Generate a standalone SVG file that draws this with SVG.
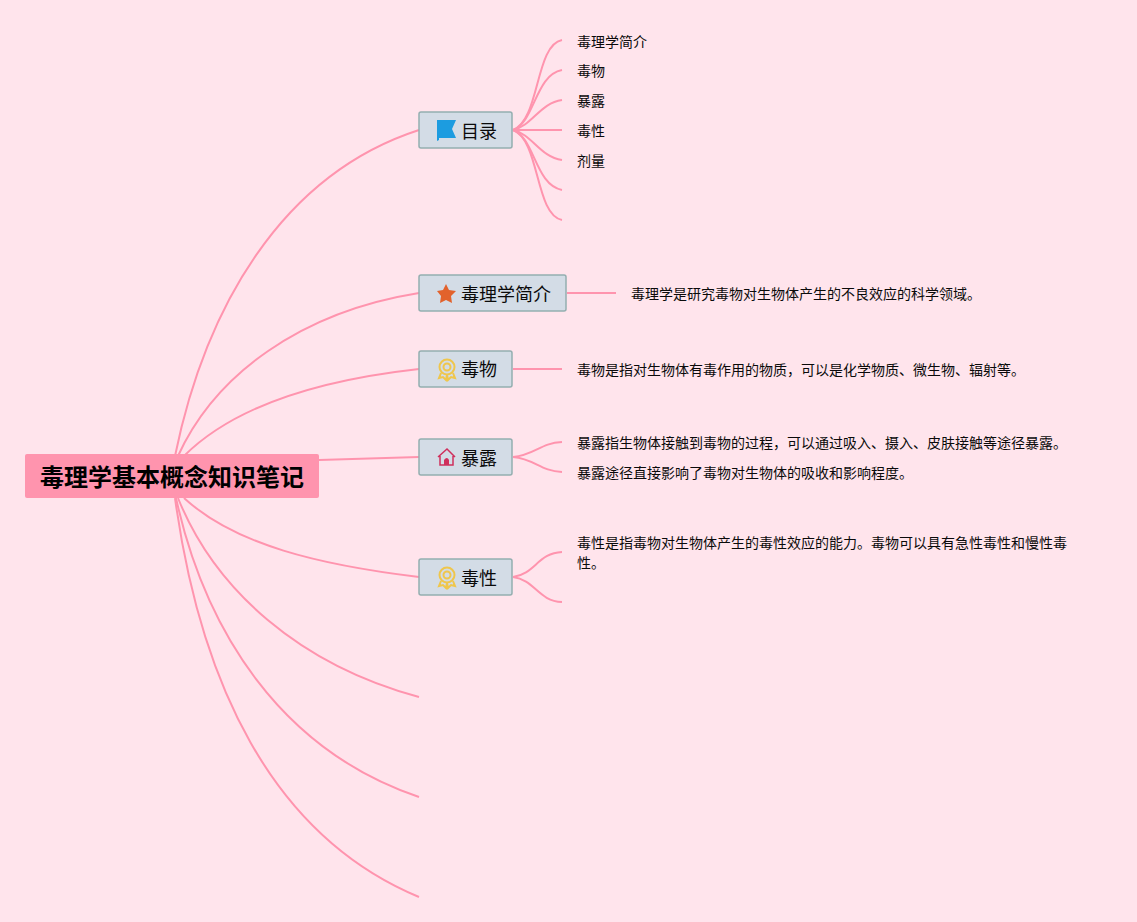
<svg xmlns="http://www.w3.org/2000/svg" width="1137" height="922" viewBox="0 0 1137 922">
<style>
text{font-family:"Liberation Sans","Noto Sans CJK SC",sans-serif;fill:#0a0a0a}
.c{fill:none;stroke:#ff94ae;stroke-width:2}
.b{fill:#d3dce6;stroke:#94aeb0;stroke-width:1.5}
.t{font-size:18px}
.l{font-size:14px}
</style>
<rect width="1137" height="922" fill="#ffe4ec"/>
<g id="connectors">
<path class="c" d="M175 456C205 310 280 175 419 130"/>
<path class="c" d="M178 456C215 375 300 312 419 293"/>
<path class="c" d="M184 456C235 405 320 380 419 369"/>
<path class="c" d="M319 460L419 457"/>
<path class="c" d="M184 498C235 545 320 565 419 577"/>
<path class="c" d="M178 498C215 590 300 665 419 697"/>
<path class="c" d="M176 498C205 630 280 750 419 797"/>
<path class="c" d="M175 498C200 680 270 835 419 897"/>
<path class="c" d="M513 130C540 120 535 45 562 40"/>
<path class="c" d="M513 130C535 122 535 75 562 70"/>
<path class="c" d="M513 130C532 126 540 103 562 100"/>
<path class="c" d="M513 130L562 130"/>
<path class="c" d="M513 130C532 134 540 157 562 160"/>
<path class="c" d="M513 130C535 138 535 185 562 190"/>
<path class="c" d="M513 130C540 140 535 215 562 220"/>
<path class="c" d="M567 293L616 293"/>
<path class="c" d="M513 369L562 369"/>
<path class="c" d="M513 457C535 455 540 443 562 442"/>
<path class="c" d="M513 457C535 459 540 471 562 472"/>
<path class="c" d="M513 577C535 574 538 553 562 552"/>
<path class="c" d="M513 577C535 580 538 601 562 602"/>
</g>
<g id="root"><rect x="25" y="454" width="294" height="44" rx="2" fill="#ff94ae"/><text x="172" y="486" text-anchor="middle" font-size="24" font-weight="700" style="fill:#000">毒理学基本概念知识笔记</text></g>
<g id="n-mulu"><rect class="b" x="419" y="112" width="93" height="36" rx="2"/><path d="M437 120H456L452 129L456 138H439V140L437 141Z" fill="#1c9ce0"/><text class="t" x="461" y="138">目录</text></g>
<g id="n-jianjie"><rect class="b" x="419" y="275" width="147" height="36" rx="2"/><path d="M446 284L449 290L456 291L451 296L452 303L446 300L440 303L441 296L437 291L443 290Z" fill="#e2622c"/><text class="t" x="461" y="301">毒理学简介</text></g>
<g id="n-duwu"><rect class="b" x="419" y="351" width="93" height="36" rx="2"/><g fill="none" stroke="#efc64c" stroke-width="2"><circle cx="447" cy="367" r="7.5"/><circle cx="447" cy="367" r="3.5"/><path d="M441 373L439 378L443 377L446 380L447 375L448 380L451 377L455 378L453 373"/></g><text class="t" x="461" y="376">毒物</text></g>
<g id="n-baolu"><rect class="b" x="419" y="439" width="93" height="36" rx="2"/><path d="M438 457L447 449L455 457M440 456V465H453V456" fill="none" stroke="#cf2f5c" stroke-width="1.5"/><path d="M444 465V460Q447 456 449 460V465Z" fill="#cf2f5c"/><text class="t" x="461" y="465">暴露</text></g>
<g id="n-duxing"><rect class="b" x="419" y="559" width="93" height="36" rx="2"/><g fill="none" stroke="#efc64c" stroke-width="2"><circle cx="447" cy="575" r="7.5"/><circle cx="447" cy="575" r="3.5"/><path d="M441 581L439 586L443 585L446 588L447 583L448 588L451 585L455 586L453 581"/></g><text class="t" x="461" y="585">毒性</text></g>
<g id="labels">
<text class="l" x="577" y="46.500">毒理学简介</text>
<text class="l" x="577" y="76">毒物</text>
<text class="l" x="577" y="106">暴露</text>
<text class="l" x="577" y="136">毒性</text>
<text class="l" x="577" y="166">剂量</text>
<text class="l" x="631" y="299">毒理学是研究毒物对生物体产生的不良效应的科学领域。</text>
<text class="l" x="577" y="375">毒物是指对生物体有毒作用的物质，可以是化学物质、微生物、辐射等。</text>
<text class="l" x="577" y="448">暴露指生物体接触到毒物的过程，可以通过吸入、摄入、皮肤接触等途径暴露。</text>
<text class="l" x="577" y="478">暴露途径直接影响了毒物对生物体的吸收和影响程度。</text>
<text class="l" x="577" y="548">毒性是指毒物对生物体产生的毒性效应的能力。毒物可以具有急性毒性和慢性毒</text>
<text class="l" x="577" y="568">性。</text>
</g>
</svg>
